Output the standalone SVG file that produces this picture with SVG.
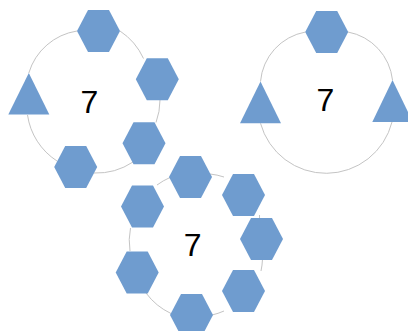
<svg xmlns="http://www.w3.org/2000/svg" width="408" height="331" viewBox="0 0 408 331">
<style>
.c{fill:none;stroke:#c4c4c4;stroke-width:1}
.s{fill:#6f9ccf}
.t{font-family:"Liberation Sans",Arial,sans-serif;font-size:32px;fill:#000;text-anchor:middle}
</style>
<defs>
<polygon id="hex" points="-21.5,0 -10.5,-21 10.5,-21 21.5,0 10.5,21 -10.5,21"/>
</defs>
<rect width="408" height="331" fill="#fff"/>
<g id="connectors">
<path class="c" d="M28.8,73 A60,60 0 0 1 77,31"/>
<path class="c" d="M120,31 A66,66 0 0 1 143.5,58.5"/>
<path class="c" d="M160,100 A66,66 0 0 1 156,122.5"/>
<path class="c" d="M133,162 A66,66 0 0 1 94,173"/>
<path class="c" d="M57,161 A66,66 0 0 1 27.5,115"/>
<path class="c" d="M260.5,81.5 A55,55 0 0 1 305.5,32"/>
<path class="c" d="M348,32 A55,55 0 0 1 392.5,80"/>
<path class="c" d="M392,122 A68,68 0 0 1 260.5,123.3"/>
<path class="c" d="M210,174 A66,66 0 0 1 224,177"/>
<path class="c" d="M259.5,215 A66,66 0 0 1 259.5,219"/>
<path class="c" d="M262.5,259 A66,66 0 0 1 261,271"/>
<path class="c" d="M224,311 A66,66 0 0 1 212,315"/>
<path class="c" d="M171,313.5 A66,66 0 0 1 146,293"/>
<path class="c" d="M130,251 A66,66 0 0 1 130.5,228"/>
<path class="c" d="M157,185 A66,66 0 0 1 170,177.5"/>
</g>
<g id="cycle1">
<g id="n1a"><use href="#hex" class="s" x="98.5" y="31"/></g>
<g id="n1b"><use href="#hex" class="s" x="157.3" y="79.2"/></g>
<g id="n1c"><use href="#hex" class="s" x="144" y="143.3"/></g>
<g id="n1d"><use href="#hex" class="s" x="75.7" y="167"/></g>
<g id="n1e"><polygon class="s" points="28.8,73 49.3,114.5 8.3,114.5"/></g>
<g id="label1"><text class="t" x="89.5" y="112.5">7</text></g>
</g>
<g id="cycle2">
<g id="n2a"><use href="#hex" class="s" x="326.7" y="32"/></g>
<g id="n2b"><polygon class="s" points="392.5,80 412.8,122 372.3,122"/></g>
<g id="n2c"><polygon class="s" points="260.5,81.5 281,123.3 240,123.3"/></g>
<g id="label2"><text class="t" x="325.3" y="110.5">7</text></g>
</g>
<g id="cycle3">
<g id="n3a"><use href="#hex" class="s" x="190.5" y="177"/></g>
<g id="n3b"><use href="#hex" class="s" x="243.5" y="195"/></g>
<g id="n3c"><use href="#hex" class="s" x="261.5" y="239"/></g>
<g id="n3d"><use href="#hex" class="s" x="243.5" y="291"/></g>
<g id="n3e"><use href="#hex" class="s" x="191.5" y="315"/></g>
<g id="n3f"><use href="#hex" class="s" x="137.2" y="272.5"/></g>
<g id="n3g"><use href="#hex" class="s" x="142.5" y="206.5"/></g>
<g id="label3"><text class="t" x="192.7" y="256">7</text></g>
</g>
</svg>
